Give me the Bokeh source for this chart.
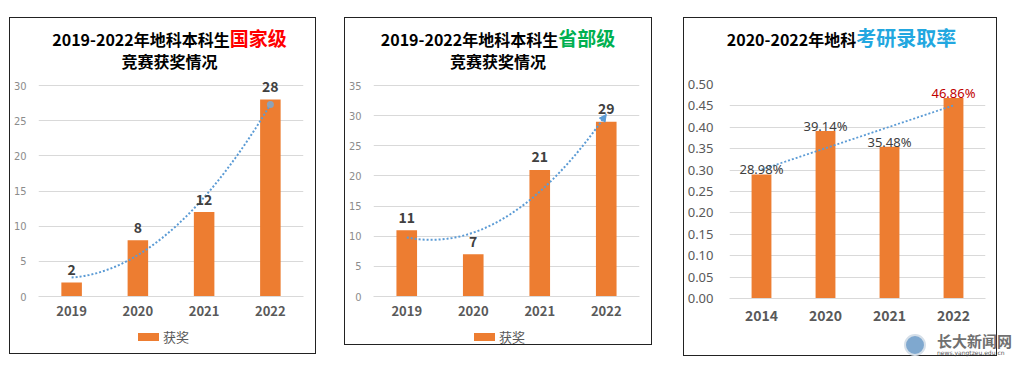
import numpy as np
from bokeh.plotting import figure
from bokeh.models import (FactorRange, Range1d, ColumnDataSource, SingleIntervalTicker,
                          NumeralTickFormatter, Arrow, NormalHead, LabelSet, Div, Spacer)
from bokeh.layouts import row, column
from bokeh.embed import file_html
from bokeh.resources import INLINE
from bokeh.core.properties import value

# ---------------- data ----------------
years_awards = ["2019", "2020", "2021", "2022"]
national_awards = [2, 8, 12, 28]
provincial_awards = [11, 7, 21, 29]
years_rate = ["2014", "2020", "2021", "2022"]
admission_rate = [0.2898, 0.3914, 0.3548, 0.4686]
legend_label = "获奖"

title_a1 = "2019-2022年地科本科生"
title_a2 = "国家级"
title_b2 = "省部级"
title_sub = "竞赛获奖情况"
title_c1 = "2020-2022年地科"
title_c2 = "考研录取率"
watermark_main = "长大新闻网"
watermark_url = "news.yangtzeu.edu.cn"

# ---------------- styles ----------------
CJK = "Noto Sans CJK SC"
BAR = "#ED7D31"
GRID = "#D9D9D9"
TREND = "#5B9BD5"
BOX = {"outline": "1.5px solid #222222"}


def base_fig(width, height, factors, yend, left, right, top, bottom):
    p = figure(width=width, height=height,
               x_range=FactorRange(*factors, range_padding=0, factor_padding=0),
               y_range=Range1d(0, yend), output_backend="svg", toolbar_location=None,
               min_border_left=left, min_border_right=right, min_border_top=top,
               min_border_bottom=bottom)
    p.outline_line_color = None
    p.background_fill_color = "white"
    p.border_fill_color = "white"
    p.xgrid.grid_line_color = None
    p.ygrid.grid_line_color = GRID
    p.ygrid.grid_line_width = 1
    p.xaxis.axis_line_color = GRID
    p.xaxis.major_tick_line_color = None
    p.xaxis.minor_tick_line_color = None
    p.yaxis.axis_line_color = None
    p.yaxis.major_tick_line_color = None
    p.yaxis.minor_tick_line_color = None
    p.xaxis.major_label_text_font = CJK
    p.xaxis.major_label_text_font_style = "bold"
    p.xaxis.major_label_text_color = "#595959"
    return p


def title_div(width, height, lines, pad_top, pad_left, gaps):
    outer = (f"width:{width}px; box-sizing:border-box; text-align:center; "
             f"font-family:'{CJK}'; font-weight:bold; color:#000; font-size:16px; "
             f"padding-top:{pad_top}px; padding-left:{pad_left}px; white-space:nowrap;")
    inner = "".join(f'<div style="height:21px; line-height:21px; margin-top:{g}px;">{ln}</div>'
                    for ln, g in zip(lines, gaps))
    return Div(text=f'<div style="{outer}">{inner}</div>', width=width, height=height, margin=0)


def legend_div(width, height, pad_left):
    html = (f'<div style="display:flex; align-items:center; height:18px; margin-top:2px; '
            f'padding-left:{pad_left}px; white-space:nowrap;">'
            f'<span style="display:inline-block; width:21px; height:8px; background:{BAR};"></span>'
            f'<span style="margin-left:4px; font-family:\'{CJK}\'; font-size:13px; '
            f'color:#595959; line-height:18px;">{legend_label}</span></div>')
    return Div(text=html, width=width, height=height, margin=0)


def award_panel(width, leg_h, years, vals, ymax, left, right,
                colored, color, pad_left, leg_pad, end_style):
    fig_h = 252
    # frame spans 222 px; the top tick (ymax) sits 11 px below the frame top,
    # leaving headroom for the value labels above the tallest bar
    yend = ymax * 222 / 211
    p = base_fig(width, fig_h, years, yend, left, right, 0, fig_h - 222)
    p.yaxis.ticker = SingleIntervalTicker(interval=5)
    p.yaxis.major_label_text_font = "Liberation Sans Narrow, DejaVu Sans Condensed, sans-serif"
    p.yaxis.major_label_text_font_size = "11px"
    p.yaxis.major_label_text_color = "#8C8C8C"
    p.yaxis.major_label_standoff = 6
    p.xaxis.major_label_text_font_size = "13px"
    p.xaxis.major_label_standoff = 3

    src = ColumnDataSource(dict(x=years, top=vals, lab=[str(v) for v in vals]))
    p.vbar(x="x", top="top", width=0.31, source=src, fill_color=BAR, line_color=None)

    # polynomial (order 2) trend line computed from the data
    t = np.arange(len(vals))
    coef = np.polyfit(t, vals, 2)
    tt = np.linspace(0, len(vals) - 1, 80)
    yy = np.polyval(coef, tt)
    p.line(0.5 + tt, yy, line_color=TREND, line_width=2, line_dash="2 2")
    if end_style == "dot":
        p.scatter([0.5 + tt[-1]], [yy[-1]], size=7, fill_color="#8DA2B8", line_color=None)
    else:
        p.add_layout(Arrow(end=NormalHead(size=7, fill_color=TREND, line_color=TREND),
                           x_start=0.5 + tt[-4], y_start=yy[-4], x_end=0.5 + tt[-1],
                           y_end=yy[-1], line_alpha=0))

    p.add_layout(LabelSet(x="x", y="top", text="lab", source=src, y_offset=13,
                          text_font=value(CJK), text_font_style="bold", text_font_size="14px",
                          text_color="#404040", text_align="center", text_baseline="middle"))

    line1 = f'{title_a1}<span style="color:{color}; font-size:19px;">{colored}</span>'
    head = title_div(width, 56, [line1, title_sub], 9, pad_left, [0, 3])
    leg = legend_div(width, leg_h, leg_pad)
    return column(head, p, leg, styles=BOX)


col1 = award_panel(305, 27, years_awards, national_awards, 30, 23, 12,
                   title_a2, "#FF0000", 14, 128, "dot")
col2 = award_panel(306, 18, years_awards, provincial_awards, 35, 24, 12,
                   title_b2, "#00B050", 0, 129, "arrow")

# ---------------- panel 3 ----------------
p3 = base_fig(312, 265, years_rate, 0.5, 44, 11, 16, 35)
p3.yaxis.ticker = SingleIntervalTicker(interval=0.05)
p3.yaxis.formatter = NumeralTickFormatter(format="0.00")
p3.yaxis.major_label_text_font = "Noto Sans"
p3.yaxis.major_label_text_font_size = "13px"
p3.yaxis.major_label_text_color = "#595959"
p3.yaxis.major_label_standoff = 10
p3.xaxis.major_label_text_font_size = "14px"
p3.xaxis.major_label_standoff = 5

src3 = ColumnDataSource(dict(x=years_rate, top=admission_rate,
                             lab=[f"{v * 100:.2f}%" for v in admission_rate],
                             col=["#404040"] * (len(admission_rate) - 1) + ["#C00000"]))
p3.vbar(x="x", top="top", width=0.31, source=src3, fill_color=BAR, line_color=None)

t3 = np.arange(len(admission_rate))
c3 = np.polyfit(t3, admission_rate, 1)
tt3 = np.linspace(0, len(admission_rate) - 1, 40)
p3.line(0.5 + tt3, np.polyval(c3, tt3), line_color=TREND, line_width=1.8, line_dash="2 2")

p3.add_layout(LabelSet(x="x", y="top", text="lab", source=src3, y_offset=5,
                       text_font=value("Noto Sans"), text_font_size="13px", text_color="col",
                       text_align="center", text_baseline="middle"))

line3 = f'{title_c1}<span style="color:#22A7E0; font-size:20px;">{title_c2}</span>'
head3 = title_div(312, 50, [line3], 9, 3, [0])

wm_html = (
    '<div style="display:flex; align-items:center; padding-left:220px; white-space:nowrap;">'
    '<span style="display:inline-block; width:22px; height:22px; border-radius:50%; '
    'background:#7FA8CF; border:2px solid #D5DFE9; box-sizing:border-box;"></span>'
    '<div style="margin-left:11px;">'
    f'<div style="font-family:\'{CJK}\'; font-weight:bold; font-size:15px; line-height:15px; '
    f'color:#707070;">{watermark_main}</div>'
    f'<div style="font-family:\'DejaVu Sans\'; font-size:6px; line-height:6px; margin-top:2px; '
    f'color:#555;">{watermark_url}</div>'
    '</div></div>')
wm = Div(text=wm_html, width=312, height=22, margin=0)
col3 = column(head3, p3, wm, styles=BOX)

layout = column(Spacer(width=10, height=18),
                row(Spacer(width=10, height=10), col1, Spacer(width=30, height=10), col2,
                    Spacer(width=33, height=10), col3))
open("out.html", "w").write(file_html(layout, INLINE))
